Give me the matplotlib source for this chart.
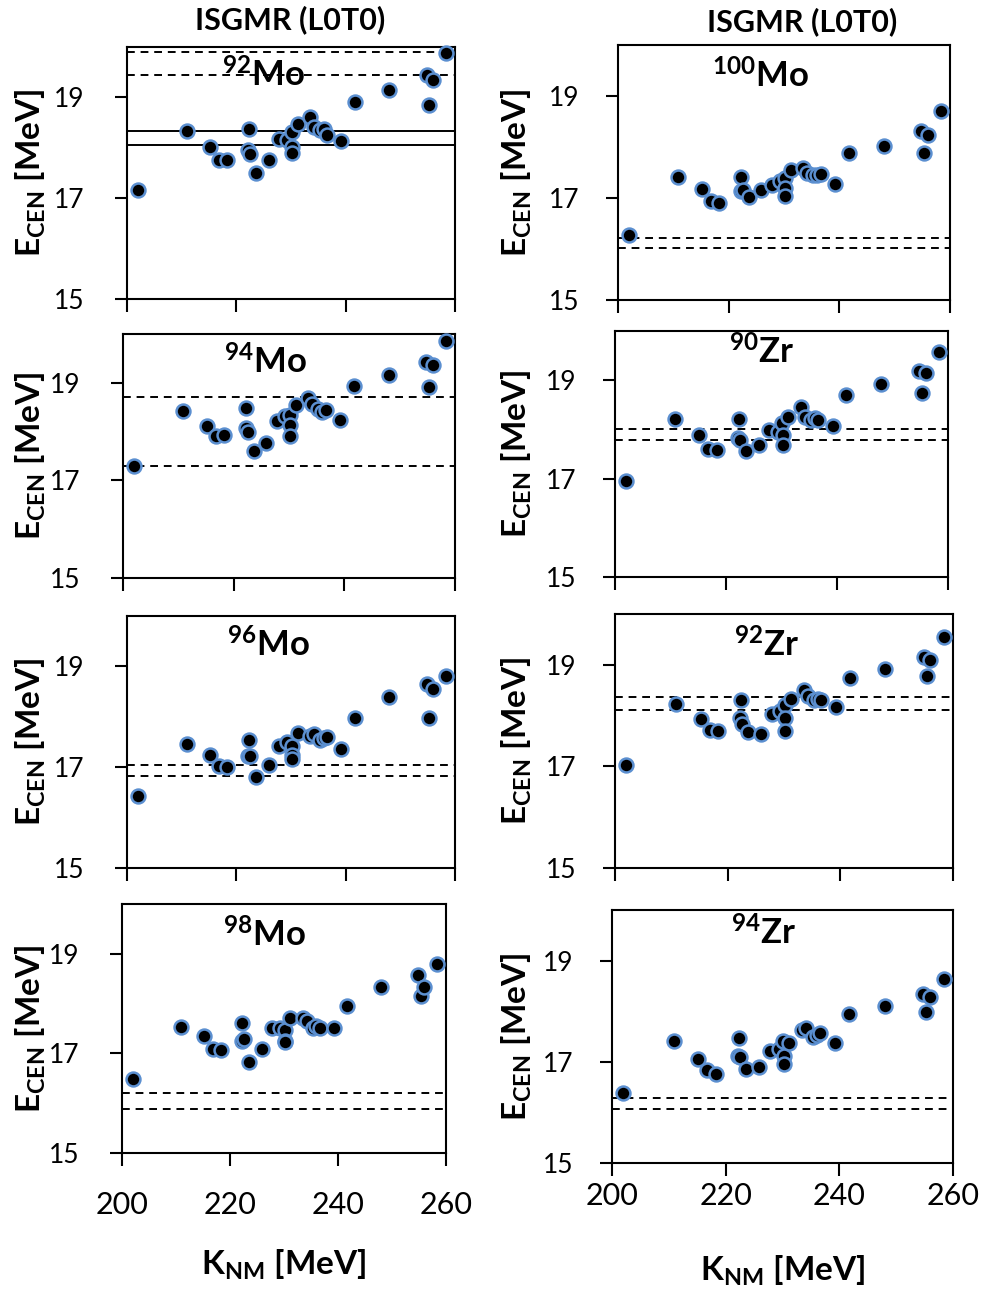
import matplotlib
matplotlib.use("Agg")
import matplotlib.pyplot as plt

plt.rcParams['font.family'] = ['Lato', 'DejaVu Sans']
plt.rcParams['mathtext.fontset'] = 'custom'
plt.rcParams['mathtext.rm'] = 'Lato'
plt.rcParams['mathtext.bf'] = 'Lato:bold'
plt.rcParams['mathtext.it'] = 'Lato:italic'

# ---- data ----
K_NM = [202.0, 210.9, 215.2, 216.8, 218.3, 222.3, 222.2, 222.5, 223.6, 225.9,
        227.8, 229.3, 230.1, 230.2, 230.2, 231.2, 233.5, 234.2, 235.3, 236.0,
        236.6, 239.2, 241.7, 248.0, 254.8, 255.3, 256.0, 258.4]

E_92Mo = [17.16, 18.33, 18.02, 17.75, 17.75, 18.38, 17.95, 17.88, 17.50, 17.75,
          18.18, 18.15, 18.31, 18.02, 17.89, 18.48, 18.61, 18.41, 18.35, 18.37,
          18.26, 18.13, 18.91, 19.15, 19.44, 18.85, 19.34, 19.88]
E_100Mo = [16.27, 17.42, 17.18, 16.95, 16.90, 17.42, 17.13, 17.15, 17.01, 17.15,
           17.25, 17.33, 17.40, 17.20, 17.03, 17.55, 17.59, 17.50, 17.46, 17.46,
           17.47, 17.28, 17.89, 18.02, 18.32, 17.89, 18.24, 18.70]
E_94Mo = [17.29, 18.42, 18.12, 17.90, 17.94, 18.48, 18.07, 18.00, 17.60, 17.76,
          18.22, 18.31, 18.34, 18.13, 17.92, 18.54, 18.69, 18.56, 18.47, 18.40,
          18.44, 18.24, 18.93, 19.17, 19.42, 18.92, 19.37, 19.86]
E_90Zr = [16.95, 18.21, 17.88, 17.61, 17.59, 18.21, 17.83, 17.79, 17.57, 17.68,
          17.98, 17.95, 18.14, 17.88, 17.69, 18.26, 18.45, 18.26, 18.19, 18.24,
          18.19, 18.06, 18.69, 18.93, 19.19, 18.74, 19.15, 19.57]
E_96Mo = [16.43, 17.47, 17.25, 17.02, 17.00, 17.53, 17.23, 17.22, 16.81, 17.05,
          17.42, 17.50, 17.43, 17.25, 17.17, 17.67, 17.62, 17.65, 17.53, 17.57,
          17.59, 17.37, 17.97, 18.40, 18.65, 17.98, 18.55, 18.81]
E_92Zr = [17.03, 18.22, 17.94, 17.72, 17.70, 18.30, 17.96, 17.84, 17.68, 17.64,
          18.04, 18.10, 18.20, 17.96, 17.70, 18.32, 18.51, 18.39, 18.30, 18.32,
          18.30, 18.17, 18.74, 18.92, 19.15, 18.77, 19.10, 19.54]
E_98Mo = [16.48, 17.54, 17.34, 17.08, 17.06, 17.62, 17.25, 17.28, 16.83, 17.08,
          17.51, 17.51, 17.46, 17.25, 17.23, 17.71, 17.71, 17.66, 17.51, 17.56,
          17.52, 17.52, 17.95, 18.34, 18.57, 18.15, 18.34, 18.80]
E_94Zr = [16.38, 17.41, 17.05, 16.83, 16.76, 17.47, 17.12, 17.10, 16.86, 16.90,
          17.21, 17.26, 17.41, 17.11, 16.95, 17.37, 17.62, 17.67, 17.50, 17.52,
          17.56, 17.38, 17.95, 18.11, 18.34, 17.98, 18.28, 18.64]

# experimental bands (lower, upper)
EXP_92Mo = [18.06, 18.33]
EXP_92Mo_2 = [19.44, 19.91]
EXP_100Mo = [16.02, 16.22]
EXP_94Mo = [17.29, 18.71]
EXP_90Zr = [17.78, 18.01]
EXP_96Mo = [16.83, 17.05]
EXP_92Zr = [18.11, 18.37]
EXP_98Mo = [15.89, 16.20]
EXP_94Zr = [16.06, 16.29]

nuclei = ['92Mo', '100Mo', '94Mo', '90Zr', '96Mo', '92Zr', '98Mo', '94Zr']
mass = ['92', '100', '94', '90', '96', '92', '98', '94']
element = ['Mo', 'Mo', 'Mo', 'Zr', 'Mo', 'Zr', 'Mo', 'Zr']
energies = [E_92Mo, E_100Mo, E_94Mo, E_90Zr, E_96Mo, E_92Zr, E_98Mo, E_94Zr]
solid_lines = [EXP_92Mo, [], [], [], [], [], [], []]
dashed_lines = [EXP_92Mo_2, EXP_100Mo, EXP_94Mo, EXP_90Zr, EXP_96Mo, EXP_92Zr, EXP_98Mo, EXP_94Zr]

x_ticks = [200, 220, 240, 260]
y_ticks = [15, 17, 19]
title = 'ISGMR (L0T0)'

# ---- layout (pixels: left, top, right, bottom) ----
W, H = 989, 1293
boxes = [(127, 47, 455, 299), (618, 45, 950, 300),
         (123, 334, 455, 578), (615, 331, 948, 577),
         (127, 616, 455, 868), (615, 614, 953, 868),
         (122, 904, 446, 1153), (612, 910, 953, 1163)]
label_pos = [(0.415, 0.89), (0.43, 0.88), (0.43, 0.885), (0.44, 0.915),
             (0.43, 0.885), (0.45, 0.88), (0.44, 0.875), (0.445, 0.91)]
ylabel_right_px = [48, 534, 48, 534, 48, 534, 48, 534]
ytick_pad = [22, 19, 22, 19, 22, 19, 22, 19]

fig = plt.figure(figsize=(W / 100, H / 100), dpi=100)

for i, (l, t, r, b) in enumerate(boxes):
    ax = fig.add_axes([l / W, 1 - b / H, (r - l) / W, (b - t) / H])
    ax.set_xlim(200, 260)
    ax.set_ylim(15, 20)
    for v in solid_lines[i]:
        ax.axhline(v, color='black', lw=1.4, zorder=1)
    for v in dashed_lines[i]:
        ax.axhline(v, color='black', lw=1.4, ls=(0, (4, 3)), zorder=1)
    ax.plot(K_NM, energies[i], 'o', ms=10, mfc='black', mec='#5b8fd0', mew=1.8,
            zorder=3, clip_on=False)
    ax.set_xticks(x_ticks)
    ax.set_yticks(y_ticks)
    ax.tick_params(direction='out', length=9, width=1.5, top=False, right=False)
    ax.tick_params(axis='y', labelsize=19, pad=ytick_pad[i])
    ax.tick_params(axis='x', labelsize=22, pad=18 if i == 6 else 5)
    if i < 6:
        ax.set_xticklabels([])
    for s in ax.spines.values():
        s.set_linewidth(1.5)
        s.set_color('black')
    ax.set_ylabel(r'$\mathbf{E_{CEN}\ [MeV]}$', fontsize=24)
    ax.yaxis.set_label_coords((ylabel_right_px[i] - l) / (r - l), 0.5)
    lx, ly = label_pos[i]
    ax.text(lx, ly, r'$\mathbf{^{' + mass[i] + r'}' + element[i] + r'}$',
            transform=ax.transAxes, ha='center', va='center', fontsize=25)
    if i >= 6:
        ax.set_xlabel(r'$\mathbf{K_{NM}\ [MeV]}$', fontsize=24)
        top_px = 1248 if i == 6 else 1254
        ax.xaxis.set_label_coords(0.5, (b - top_px) / (b - t))

fig.text(290 / W, 1 - 20 / H, title, ha='center', va='center', fontsize=22, fontweight='bold')
fig.text(802 / W, 1 - 22 / H, title, ha='center', va='center', fontsize=22, fontweight='bold')

fig.savefig('out.png', dpi=100)
